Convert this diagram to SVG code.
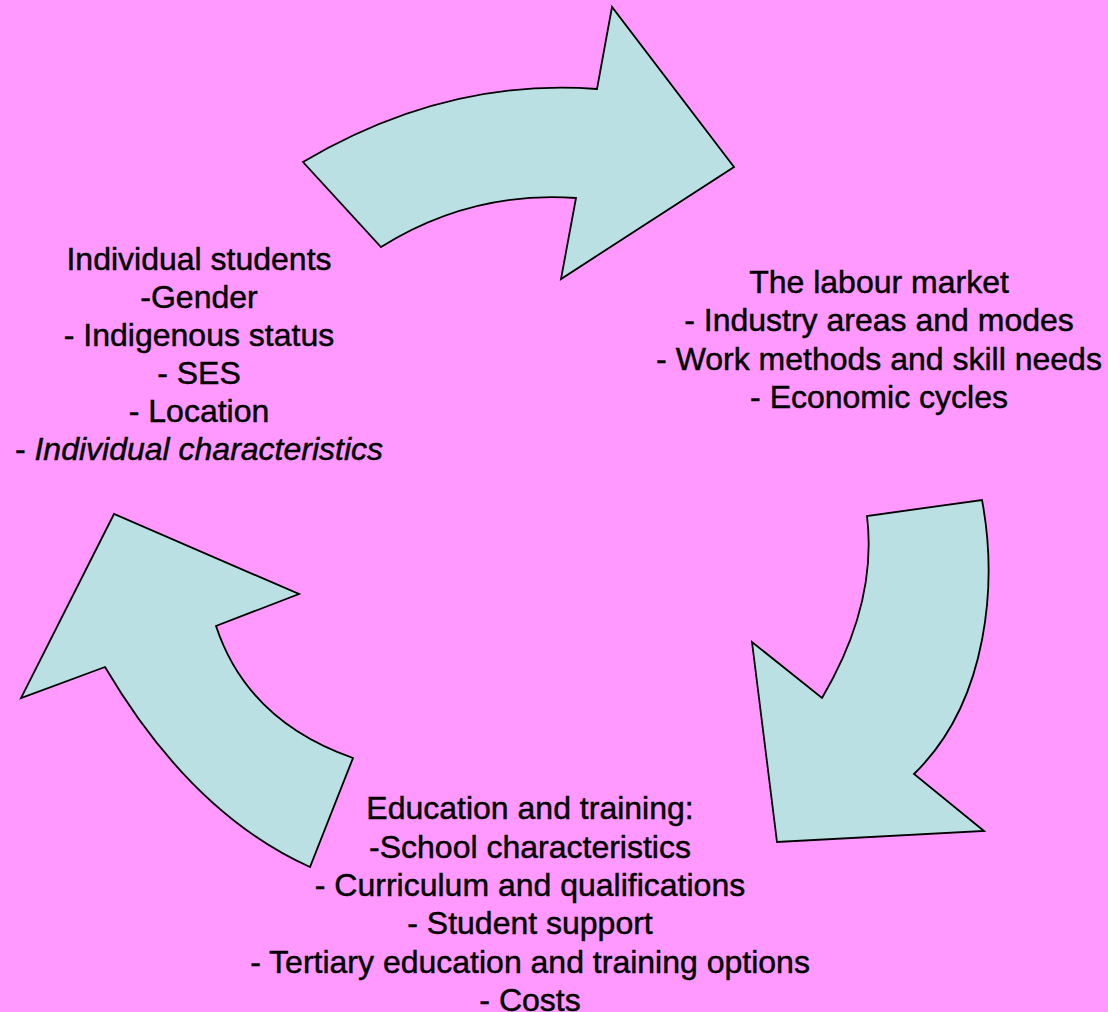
<svg xmlns="http://www.w3.org/2000/svg" width="1108" height="1012" viewBox="0 0 1108 1012">
  <style>
    .arrow { fill: #BBE0E3; stroke: #000000; stroke-width: 1.8; stroke-linejoin: miter; }
    .lbl { font-family: "Liberation Sans", Arial, sans-serif; font-size: 32px; fill: #000000; stroke: #000000; stroke-width: 0.45; text-anchor: middle; }
    .it { font-style: italic; }
  </style>
  <rect x="0" y="0" width="1108" height="1012" fill="#FF99FF"/>
  <g id="connectors">
    <path id="arrow-top" class="arrow" d="M303,162 Q446,77.5 597,89 L612,7 L734,167 L561,279 L576,198 Q471,190.6 381,247 Z"/>
    <path id="arrow-right" class="arrow" d="M982,500 C997,580 990,700 914,774 L984,831 L777,842 L752,642 L822,698 Q877.6,604 867,516 Z"/>
    <path id="arrow-left" class="arrow" d="M310,867 Q191.5,813.7 105,667 L21,698 L114,514 L299,594 L216,626 Q247.4,721 353,758 Z"/>
  </g>
  <g id="node-students">
    <text class="lbl" x="199" y="270">Individual students</text>
    <text class="lbl" x="199" y="308">-Gender</text>
    <text class="lbl" x="199" y="346">- Indigenous status</text>
    <text class="lbl" x="199" y="384">- SES</text>
    <text class="lbl" x="199" y="422">- Location</text>
    <text class="lbl" x="199" y="460">- <tspan class="it">Individual characteristics</tspan></text>
  </g>
  <g id="node-labour">
    <text class="lbl" x="879" y="293">The labour market</text>
    <text class="lbl" x="879" y="331">- Industry areas and modes</text>
    <text class="lbl" x="879" y="369.5">- Work methods and skill needs</text>
    <text class="lbl" x="879" y="408">- Economic cycles</text>
  </g>
  <g id="node-education">
    <text class="lbl" x="530" y="819">Education and training:</text>
    <text class="lbl" x="530" y="857.5">-School characteristics</text>
    <text class="lbl" x="530" y="896">- Curriculum and qualifications</text>
    <text class="lbl" x="530" y="934">- Student support</text>
    <text class="lbl" x="530" y="972.5">- Tertiary education and training options</text>
    <text class="lbl" x="530" y="1011">- Costs</text>
  </g>
</svg>
